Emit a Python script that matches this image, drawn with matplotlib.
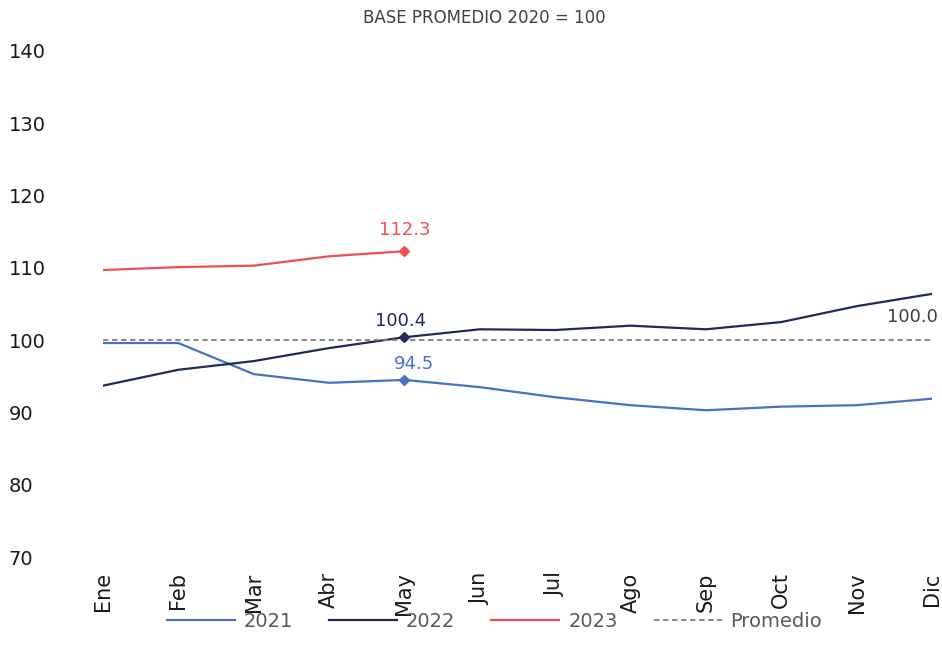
import matplotlib
matplotlib.use("Agg")
import matplotlib.pyplot as plt

meses = ["Ene", "Feb", "Mar", "Abr", "May", "Jun", "Jul", "Ago", "Sep", "Oct", "Nov", "Dic"]
s2021 = [99.6, 99.6, 95.3, 94.1, 94.5, 93.5, 92.1, 91.0, 90.3, 90.8, 91.0, 91.9]
s2022 = [93.7, 95.9, 97.1, 98.9, 100.4, 101.5, 101.4, 102.0, 101.5, 102.5, 104.7, 106.4]
s2023 = [109.7, 110.1, 110.3, 111.6, 112.3]
promedio = [100.0] * 12
yticks = [70, 80, 90, 100, 110, 120, 130, 140]

C21, C22, C23, CP = "#4472c4", "#1f2a5a", "#ee5050", "#7f7f7f"
plt.rcParams["font.family"] = ["DejaVu Sans"]

fig = plt.figure(figsize=(9.42, 6.57), dpi=100)
ax = fig.add_axes([0.1093, 0.1522, 0.9894 - 0.1093, 0.9224 - 0.1522])
x = list(range(12))
ax.plot(x, s2021, color=C21, lw=1.6, label="2021")
ax.plot(x, s2022, color=C22, lw=1.6, label="2022")
ax.plot(x[:len(s2023)], s2023, color=C23, lw=1.6, label="2023")
ax.plot(x, promedio, color=CP, lw=1.3, ls=(0, (3, 2)), label="Promedio")

# marcadores y etiquetas en May
i = 4
for s, c in [(s2021, C21), (s2022, C22), (s2023, C23)]:
    ax.plot(i, s[i], marker="D", ms=5.5, color=c, ls="none")
ax.annotate(f"{s2023[i]:.1f}", (i, s2023[i]), xytext=(0, 9), textcoords="offset points",
            ha="center", va="bottom", color=C23, fontsize=13)
ax.annotate(f"{s2022[i]:.1f}", (i, s2022[i]), xytext=(-3, 5), textcoords="offset points",
            ha="center", va="bottom", color=C22, fontsize=13)
ax.annotate(f"{s2021[i]:.1f}", (i, s2021[i]), xytext=(7, 5), textcoords="offset points",
            ha="center", va="bottom", color=C21, fontsize=13)
ax.annotate(f"{promedio[-1]:.1f}", (11, promedio[-1]), xytext=(4, 10), textcoords="offset points",
            ha="right", va="bottom", color="#404040", fontsize=13)

ax.set_xlim(0, 11)
ax.set_ylim(70, 140)
ax.set_yticks(yticks)
ax.set_yticklabels([str(v) for v in yticks], fontsize=14, ha="left", color="#1a1a1a")
ax.tick_params(axis="y", length=0, pad=68)
ax.set_xticks(x)
ax.set_xticklabels(meses, rotation=90, fontsize=15, color="#1a1a1a")
ax.tick_params(axis="x", length=0, pad=11)
for sp in ax.spines.values():
    sp.set_visible(False)

fig.text(0.514, 0.972, "BASE PROMEDIO 2020 = 100", ha="center", va="center", fontsize=12, color="#404040")
leg = fig.legend(loc="center", bbox_to_anchor=(0.525, 0.054), ncol=4, frameon=False,
                 fontsize=14, handlelength=3.5, columnspacing=1.85, handletextpad=0.45)
for t in leg.get_texts():
    t.set_color("#595959")

fig.savefig("out.png", dpi=100, facecolor="white")
